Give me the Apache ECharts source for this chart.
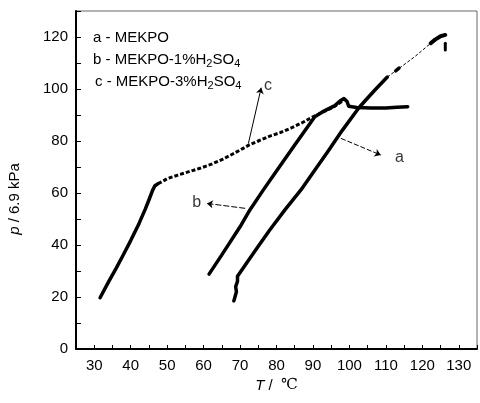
<!DOCTYPE html>
<html>
<head>
<meta charset="utf-8">
<script src="https://cdn.jsdelivr.net/npm/echarts@6/dist/echarts.min.js"></script>
<style>
  html, body { margin: 0; padding: 0; background: #fff; }
  #chart { width: 480px; height: 403px; }
</style>
</head>
<body>
<div id="chart"></div>
<script>
// Pressure (p / 6.9 kPa) against temperature (T / °C) for MEKPO samples

// a - MEKPO
const curveA = [[68.3,18.5],[68.7,20.5],[69.0,22.0],[68.8,24.0],[69.3,26.0],[69.3,28.0],[72,33.5],[75,39.5],[78,45.5],[82.3,53.5],[86.7,61.2],[90,67.8],[94,75.8],[98,84.0],[102.5,92.6],[104,95.0],[107,99.6],[110.4,104.6]];
const curveATail = [[110.4,104.6],[113.2,107.5],[118,112.5],[122.3,117.6]];
const curveADot = [[112.7,107.0],[113.6,108.0]];
const curveATop = [[122.3,117.6],[123.5,119.0],[125,120.3],[126.3,120.8]];
const curveADrop = [[126.3,117.6],[126.3,115.0]];

// b - MEKPO-1%H2SO4
const curveB = [[61.5,28.8],[65,36.2],[70,47.0],[72.7,53.5],[76.4,61.2],[80,68.5],[85,78.5],[90.5,89.3],[93,91.5],[96,93.6],[97.5,95.5],[98.5,96.3],[99.3,95.3],[99.8,93.4],[102,92.9],[106,92.7],[110,92.7],[113,93.0],[116,93.2]];

// c - MEKPO-3%H2SO4
const curveC = [[31.6,19.7],[34,26.0],[36,31.0],[37.7,35.5],[40,41.7],[42.3,48.3],[44,53.8],[45,57.3],[46,61.0],[46.6,62.7],[47.5,63.6]];
const curveCUpper = [[47.5,63.6],[48.5,64.3],[50,65.5],[53,66.9],[56,68.2],[59,69.5],[62,71.0],[65,72.8],[68,75.0],[70,76.5],[72.5,78.5],[75,80.0],[78,81.8],[81,83.2],[84,85.0],[87,87.0],[90,89.3],[93,91.3],[95.5,93.0],[97.5,94.8],[98.5,96.0]];

// curve tags and their pointer arrows
const tagNames = ['a', 'b', 'c'];
const tagPositions = [[113.7,73.5],[58.1,56.5],[77.7,101.2]];
const arrowA = [[97.7,81.0],[108.6,74.6]];
const arrowB = [[71.4,54.1],[60.9,56.0]];
const arrowC = [[72.3,79.1],[75.8,100.5]];

// axis ticks
const xTickLabels = [30,40,50,60,70,80,90,100,110,120,130];
const yTickLabels = [0,20,40,60,80,100,120];

const FONT = '"Liberation Sans", Arial, sans-serif';
const chart = echarts.init(document.getElementById('chart'));

function curve(data, width, type) {
  const dashed = type && type !== 'solid';
  return {
    type: 'line', data: data, symbol: 'none', silent: true,
    lineStyle: { color: '#000', width: width, type: type || 'solid', cap: dashed ? 'butt' : 'round', join: 'round' },
    z: 3
  };
}
function arrow(coords, type) {
  return {
    type: 'lines', coordinateSystem: 'cartesian2d', silent: true,
    symbol: ['none', 'arrow'], symbolSize: 6,
    lineStyle: { color: '#000', width: 1, type: type, opacity: 1 },
    data: [{ coords: coords }], z: 4
  };
}

chart.setOption({
  animation: false,
  backgroundColor: '#fff',
  grid: { left: 76, right: 2, top: 11, bottom: 54, show: true, borderColor: '#666', borderWidth: 1 },
  xAxis: {
    type: 'value', min: 25, max: 135, interval: 5,
    axisLine: { lineStyle: { color: '#000', width: 2 } },
    axisTick: { inside: true, length: 4, lineStyle: { color: '#000', width: 1 } },
    axisLabel: {
      color: '#000', fontSize: 15, fontFamily: FONT, margin: 9,
      formatter: v => xTickLabels.indexOf(v) >= 0 ? String(v) : ''
    },
    splitLine: { show: false },
    name: '{it|T} /  {c|℃}', nameLocation: 'middle', nameGap: 23,
    nameTextStyle: {
      color: '#000', fontSize: 15, fontFamily: FONT,
      rich: {
        it: { fontStyle: 'italic', fontSize: 15, fontFamily: FONT, color: '#000' },
        c: { fontSize: 15, fontFamily: '"Liberation Serif", "DejaVu Serif", serif', color: '#000' }
      }
    }
  },
  yAxis: {
    type: 'value', min: 0, max: 130, interval: 10,
    axisLine: { lineStyle: { color: '#000', width: 2 } },
    axisTick: { inside: true, length: 5, lineStyle: { color: '#000', width: 1 } },
    axisLabel: {
      color: '#000', fontSize: 15, fontFamily: FONT, margin: 8,
      formatter: v => yTickLabels.indexOf(v) >= 0 ? String(v) : ''
    },
    splitLine: { show: false }
  },
  graphic: [
    {
      type: 'text', x: 15, y: 199, rotation: Math.PI / 2,
      style: {
        text: '{it|p} / 6.9 kPa', align: 'center', verticalAlign: 'middle',
        fill: '#000', font: '15px ' + FONT,
        rich: { it: { fontStyle: 'italic', fontSize: 15, fontFamily: FONT, fill: '#000' } }
      }
    },
    {
      type: 'text', x: 93, y: 38,
      style: { text: 'a - MEKPO', verticalAlign: 'middle', fill: '#000', font: '15px ' + FONT }
    },
    {
      type: 'text', x: 93, y: 60,
      style: {
        text: 'b - MEKPO-1%H{s|2}SO{s|4}', verticalAlign: 'middle', fill: '#000', font: '15px ' + FONT,
        rich: { s: { fontSize: 11, fontFamily: FONT, fill: '#000', padding: [7, 0, 0, 0] } }
      }
    },
    {
      type: 'text', x: 95, y: 82,
      style: {
        text: 'c - MEKPO-3%H{s|2}SO{s|4}', verticalAlign: 'middle', fill: '#000', font: '15px ' + FONT,
        rich: { s: { fontSize: 11, fontFamily: FONT, fill: '#000', padding: [7, 0, 0, 0] } }
      }
    }
  ],
  series: [
    curve(curveA, 3.5),
    curve(curveATail, 1, [3, 2]),
    curve(curveADot, 3.5),
    curve(curveATop, 4),
    curve(curveADrop, 3),
    curve(curveB, 3.5),
    curve(curveC, 3.5),
    curve(curveCUpper, 3, [4, 2]),
    arrow(arrowA, [5, 2]),
    arrow(arrowB, [6, 2]),
    arrow(arrowC, 'solid'),
    {
      type: 'scatter', silent: true, symbolSize: 1,
      itemStyle: { color: 'rgba(0,0,0,0)' },
      data: tagNames.map((n, i) => ({ name: n, value: tagPositions[i] })),
      label: { show: true, position: 'inside', formatter: '{b}', color: '#000', fontSize: 16, fontFamily: FONT },
      z: 5
    }
  ]
});
</script>
</body>
</html>
